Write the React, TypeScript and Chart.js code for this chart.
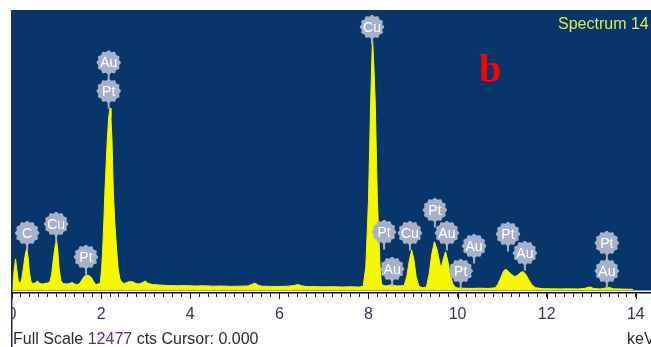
import React, { useEffect, useRef } from 'react';
import { Chart, registerables } from 'chart.js';

Chart.register(...registerables);

// ---- Spectrum data (keV vs counts) ----
const energyKeV = [
  0.0, 0.02, 0.05, 0.08, 0.11, 0.14, 0.17, 0.21, 0.25, 0.29, 0.33, 0.36, 0.39, 0.43, 0.47,
  0.52, 0.57, 0.62, 0.68, 0.74, 0.8, 0.85, 0.89, 0.93, 0.97, 1.0, 1.03, 1.06, 1.1, 1.15,
  1.22, 1.3, 1.35, 1.4, 1.47, 1.53, 1.58, 1.63, 1.68, 1.73, 1.78, 1.83, 1.88, 1.93, 1.98,
  2.01, 2.035, 2.06, 2.087, 2.138, 2.17, 2.2, 2.22, 2.244, 2.273, 2.31, 2.349, 2.38, 2.42, 2.47,
  2.53, 2.6, 2.68, 2.72, 2.78, 2.85, 2.93, 2.99, 3.05, 3.15, 3.3, 3.5, 3.7, 3.9, 4.1,
  4.3, 4.5, 4.7, 4.9, 5.1, 5.3, 5.38, 5.45, 5.52, 5.6, 5.8, 6.0, 6.2, 6.33, 6.42,
  6.5, 6.6, 6.8, 7.0, 7.2, 7.4, 7.6, 7.8, 7.88, 7.94, 8.0, 8.05, 8.09, 8.12, 8.15,
  8.2, 8.26, 8.29, 8.33, 8.4, 8.48, 8.53, 8.58, 8.65, 8.72, 8.78, 8.8, 8.86, 8.92, 8.97,
  9.02, 9.07, 9.13, 9.2, 9.26, 9.3, 9.36, 9.42, 9.48, 9.54, 9.6, 9.63, 9.68, 9.73, 9.78,
  9.84, 9.9, 9.95, 10.0, 10.1, 10.3, 10.5, 10.7, 10.85, 10.9, 10.97, 11.03, 11.08, 11.14, 11.2,
  11.29, 11.36, 11.42, 11.47, 11.53, 11.6, 11.67, 11.75, 11.9, 12.1, 12.3, 12.5, 12.7, 12.85, 12.93,
  12.98, 13.05, 13.2, 13.3, 13.36, 13.42, 13.5, 13.7, 13.93, 13.94,
];

const counts = [
  0, 300, 900, 1381, 900, 400, 312, 400, 900, 1500, 1871, 1500, 800, 356, 290,
  312, 401, 300, 267, 290, 312, 356, 700, 1400, 2000, 2228, 1700, 900, 401, 290,
  267, 290, 340, 267, 245, 312, 490, 620, 668, 640, 560, 380, 245, 260, 312,
  900, 1782, 3000, 4456, 6684, 7700, 8110, 7700, 6684, 4456, 2900, 1782, 1000, 500, 330,
  290, 356, 380, 356, 290, 267, 330, 400, 300, 245, 223, 200, 190, 200, 178,
  190, 170, 178, 160, 170, 178, 245, 312, 220, 170, 160, 156, 170, 200, 245,
  190, 156, 150, 140, 150, 134, 145, 134, 160, 1025, 4010, 8466, 11274, 10000, 8466,
  4010, 1025, 300, 200, 178, 220, 250, 200, 178, 190, 200, 200, 600, 1350, 1782,
  1350, 600, 180, 100, 120, 134, 700, 1600, 2152, 1800, 1200, 950, 1400, 1707, 1300,
  650, 250, 120, 89, 80, 70, 80, 70, 100, 250, 550, 850, 922, 830, 700,
  593, 680, 790, 815, 700, 450, 220, 100, 60, 50, 45, 50, 45, 70, 120,
  130, 70, 45, 80, 110, 100, 50, 40, 30, 0,
];

// ---- Element markers ----
const labelTexts = ['C', 'Cu', 'Pt', 'Au', 'Pt', 'Cu', 'Pt', 'Au', 'Cu', 'Pt', 'Au', 'Au', 'Pt', 'Pt', 'Au', 'Pt', 'Au'];
const labelEnergies = [0.34, 0.99, 1.66, 2.17, 2.17, 8.08, 8.35, 8.53, 8.93, 9.49, 9.76, 10.37, 10.07, 11.13, 11.51, 13.35, 13.35];
const labelCounts = [2540, 2941, 1470, 10137, 8867, 11719, 2584, 936, 2540, 3565, 2540, 1961, 847, 2495, 1649, 2094, 847];

// ---- Axis ----
const majorTicks = [0, 2, 4, 6, 8, 10, 12, 14];
const X_MIN = 0;
const X_MAX = 14.34;
const FULL_SCALE = 12477;
const Y_MIN = -134;
const MINOR_STEP = 0.2;

const titleText = 'Spectrum 14';
const panelLetter = 'b';
const fullScaleText = ['Full Scale ', '12477', ' cts Cursor: 0.000'];
const unitText = 'keV';

const BLUE = '#07376a';
const YELLOW = '#f7f700';
const BADGE = '#a6b0c8';
const SANS = '"Liberation Sans", Arial, sans-serif';

function isMajor(v: number) {
  return majorTicks.some((m) => Math.abs(m - v) < 1e-6);
}

function drawBadge(ctx: CanvasRenderingContext2D, x: number, y: number, r: number, text: string) {
  ctx.save();
  // stem
  ctx.strokeStyle = BADGE;
  ctx.lineWidth = 2;
  ctx.beginPath();
  ctx.moveTo(x, y + r - 1);
  ctx.lineTo(x, y + r + 6);
  ctx.stroke();
  // scalloped disc
  ctx.fillStyle = BADGE;
  ctx.beginPath();
  const n = 72;
  for (let i = 0; i <= n; i++) {
    const a = (i / n) * Math.PI * 2;
    const rr = r + 0.8 * Math.cos(a * 12);
    const px = x + rr * Math.cos(a);
    const py = y + rr * Math.sin(a);
    if (i === 0) ctx.moveTo(px, py);
    else ctx.lineTo(px, py);
  }
  ctx.closePath();
  ctx.fill();
  ctx.fillStyle = '#ffffff';
  ctx.font = `14px ${SANS}`;
  ctx.textAlign = 'center';
  ctx.textBaseline = 'middle';
  ctx.fillText(text, x, y + 1);
  ctx.restore();
}

export default function App() {
  const ref = useRef<HTMLCanvasElement>(null);

  useEffect(() => {
    document.body.style.margin = '0';
    const canvas = ref.current;
    if (!canvas) return;

    const decor = {
      id: 'edsDecor',
      beforeDraw(chart: any) {
        const { ctx, chartArea, scales } = chart;
        ctx.save();
        ctx.fillStyle = '#ffffff';
        ctx.fillRect(0, 0, chart.width, chart.height);
        const y0 = scales.y.getPixelForValue(0);
        ctx.fillStyle = BLUE;
        ctx.fillRect(chartArea.left, chartArea.top, chartArea.right - chartArea.left, y0 + 0.5 - chartArea.top);
        ctx.restore();
      },
      afterDatasetsDraw(chart: any) {
        const { ctx, scales } = chart;
        for (let i = 0; i < labelTexts.length; i++) {
          const x = scales.x.getPixelForValue(labelEnergies[i]);
          const y = scales.y.getPixelForValue(labelCounts[i]);
          drawBadge(ctx, x, y, 11.5, labelTexts[i]);
        }
        ctx.save();
        ctx.fillStyle = '#ff0000';
        ctx.font = `bold 40px "Liberation Serif", "Times New Roman", serif`;
        ctx.textAlign = 'left';
        ctx.textBaseline = 'alphabetic';
        ctx.fillText(panelLetter, 479, 82);
        ctx.fillStyle = '#e4e455';
        ctx.font = `16px ${SANS}`;
        ctx.fillText(titleText, 558, 28.5);
        ctx.restore();
      },
      afterDraw(chart: any) {
        const { ctx, chartArea, scales } = chart;
        ctx.save();
        // longer major ticks
        ctx.strokeStyle = '#1a1a2a';
        ctx.lineWidth = 1;
        for (const m of majorTicks) {
          const x = Math.round(scales.x.getPixelForValue(m)) + 0.5;
          ctx.beginPath();
          ctx.moveTo(x, chartArea.bottom);
          ctx.lineTo(x, chartArea.bottom + 6);
          ctx.stroke();
        }
        // clip strip at left edge of panel
        ctx.fillStyle = '#ffffff';
        ctx.fillRect(0, 0, chartArea.left - 1, chart.height);
        ctx.fillStyle = '#1c2a4c';
        ctx.fillRect(chartArea.left - 1, chartArea.top, 1.5, chart.height - chartArea.top);
        // bottom status text
        ctx.font = `16px ${SANS}`;
        ctx.textAlign = 'left';
        ctx.textBaseline = 'alphabetic';
        let x = chartArea.left + 1;
        const colors = ['#2b2b2b', '#5a2d6e', '#2b2b2b'];
        fullScaleText.forEach((t, i) => {
          ctx.fillStyle = colors[i];
          ctx.fillText(t, x, 343.5);
          x += ctx.measureText(t).width;
        });
        ctx.fillStyle = '#2b2b2b';
        ctx.fillText(unitText, 627, 343.5);
        ctx.restore();
      },
    };

    const chart = new Chart(canvas, {
      type: 'line',
      data: {
        datasets: [
          {
            data: energyKeV.map((e, i) => ({ x: e, y: counts[i] })),
            fill: 'origin',
            backgroundColor: YELLOW,
            borderColor: YELLOW,
            borderWidth: 1,
            pointRadius: 0,
            tension: 0,
          },
        ],
      },
      options: {
        animation: false,
        responsive: false,
        devicePixelRatio: 1,
        events: [],
        layout: { padding: { left: 12, right: 0, top: 10, bottom: 14.8 } },
        plugins: { legend: { display: false }, tooltip: { enabled: false } },
        scales: {
          x: {
            type: 'linear',
            min: X_MIN,
            max: X_MAX,
            afterFit: (scale: any) => {
              scale.paddingLeft = 0;
              scale.paddingRight = 0;
            },
            grid: { drawOnChartArea: false, drawTicks: true, tickLength: 4, color: '#1a1a2a', lineWidth: 1 },
            border: { display: true, color: '#111111', width: 1.5 },
            ticks: {
              stepSize: MINOR_STEP,
              autoSkip: false,
              maxRotation: 0,
              padding: 8,
              color: '#3d2f4f',
              font: { family: SANS, size: 16 },
              callback: (v: any) => (isMajor(Number(v)) ? String(Math.round(Number(v))) : ''),
            },
          },
          y: { type: 'linear', display: false, min: Y_MIN, max: FULL_SCALE },
        },
      },
      plugins: [decor],
    } as any);

    return () => chart.destroy();
  }, []);

  return <canvas ref={ref} width={651} height={347} style={{ display: 'block' }} />;
}
